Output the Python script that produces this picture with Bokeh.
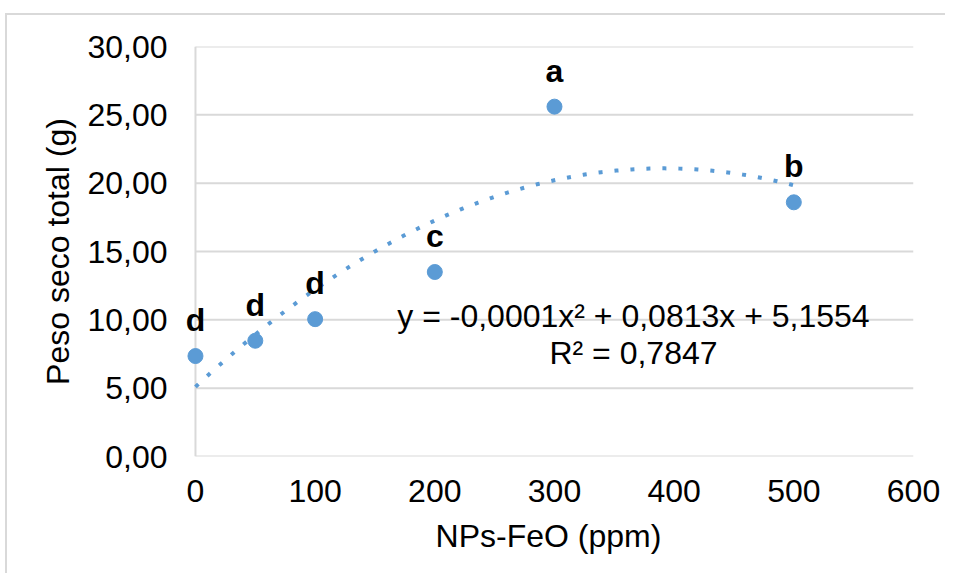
import numpy as np
from bokeh.plotting import figure
from bokeh.models import Range1d, FixedTicker, ColumnDataSource, Label, LabelSet
from bokeh.core.properties import value
from bokeh.embed import file_html
from bokeh.resources import INLINE

# ---- data ----
doses = [0, 50, 100, 200, 300, 500]
peso = [7.35, 8.47, 10.05, 13.5, 25.6, 18.6]
letters = ["d", "d", "d", "c", "a", "b"]
x_ticks = [0, 100, 200, 300, 400, 500, 600]
y_ticks = [0, 5, 10, 15, 20, 25, 30]
y_tick_labels = ["0,00", "5,00", "10,00", "15,00", "20,00", "25,00", "30,00"]
equation_text = "y = -0,0001x² + 0,0813x + 5,1554"
r2_text = "R² = 0,7847"

BLUE = "#5B9BD5"
GRID = "#D9D9D9"
FONT = "Liberation Sans"
FS = "32px"

x_min, x_max = x_ticks[0], x_ticks[-1]
y_min, y_max = y_ticks[0], y_ticks[-1]

# small extra room on the left so the label above x=0 is not clipped
p = figure(width=940, height=560, output_backend="svg", toolbar_location=None,
           x_range=Range1d(x_min - 10, x_max), y_range=Range1d(y_min, y_max),
           min_border_left=176, min_border_right=34, min_border_top=31,
           min_border_bottom=119)
p.outline_line_color = None
p.background_fill_color = "white"
p.border_fill_color = "white"
p.styles = {"border-top": "2px solid #D9D9D9", "border-left": "2px solid #D9D9D9",
            "margin-left": "5px", "margin-top": "13px"}

p.xgrid.grid_line_color = None
p.ygrid.grid_line_color = None

for ax in (p.xaxis[0], p.yaxis[0]):
    ax.axis_line_color = None
    ax.major_tick_line_color = None
    ax.minor_tick_line_color = None
    ax.major_tick_in = 0
    ax.major_tick_out = 0
    ax.major_label_text_font = FONT
    ax.major_label_text_font_size = FS
    ax.major_label_text_color = "black"
    ax.axis_label_text_font = FONT
    ax.axis_label_text_font_size = FS
    ax.axis_label_text_font_style = "normal"
    ax.axis_label_text_color = "black"

p.xaxis.ticker = FixedTicker(ticks=x_ticks)
p.yaxis.ticker = FixedTicker(ticks=y_ticks)
p.yaxis.major_label_overrides = {t: l for t, l in zip(y_ticks, y_tick_labels)}
p.xaxis.axis_label = "NPs-FeO (ppm)"
p.yaxis.axis_label = "Peso seco total (g)"
p.yaxis.major_label_standoff = 16
p.xaxis.major_label_standoff = 23
p.xaxis.axis_label_standoff = 13
p.yaxis.axis_label_standoff = 8

# horizontal gridlines (including the x axis line at 0) and y axis line at x=0
p.segment(x0=[x_min] * len(y_ticks), y0=y_ticks, x1=[x_max] * len(y_ticks), y1=y_ticks,
          line_color=GRID, line_width=2)
p.segment(x0=[x_min], y0=[y_min], x1=[x_min], y1=[y_max], line_color=GRID, line_width=2)

# trendline (2nd order polynomial fitted to the data)
coef = np.polyfit(doses, peso, 2)
xs = np.linspace(min(doses), max(doses), 200)
ys = np.polyval(coef, xs)
p.line(xs, ys, line_color=BLUE, line_width=4, line_dash="4 12")

src = ColumnDataSource(dict(x=doses, y=peso, t=letters))
p.scatter("x", "y", source=src, size=15, fill_color=BLUE, line_color=BLUE)
p.add_layout(LabelSet(x="x", y="y", text="t", source=src, text_font=value(FONT),
                      text_font_size=value(FS), text_font_style="bold",
                      text_align="center", text_baseline="alphabetic",
                      y_offset=25, text_color="black"))

eq_x = 366
p.add_layout(Label(x=eq_x, y=10.3, text=equation_text, text_font=FONT,
                   text_font_size=FS, text_align="center",
                   text_baseline="alphabetic", text_color="black"))
p.add_layout(Label(x=eq_x, y=7.6, text=r2_text, text_font=FONT,
                   text_font_size=FS, text_align="center",
                   text_baseline="alphabetic", text_color="black"))

open("out.html", "w").write(file_html(p, INLINE))
